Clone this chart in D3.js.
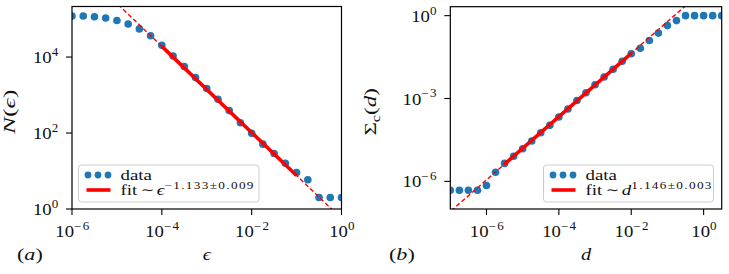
<!DOCTYPE html>
<html>
<head>
<meta charset="utf-8">
<script src="https://cdn.jsdelivr.net/npm/d3@7"></script>
<style>
	body { margin: 0; background: #fff; }
	svg text { font-family: "Liberation Serif", "DejaVu Serif", serif; fill: #111; }
</style>
</head>
<body>
<script>
'use strict';

// Panel (a): box counting N(eps)
const epsilonValues = [1e-6, 1.78e-6, 3.16e-6, 5.62e-6, 1e-5, 1.78e-5, 3.16e-5, 5.62e-5,
	1e-4, 1.78e-4, 3.16e-4, 5.62e-4, 1e-3, 1.78e-3, 3.16e-3, 5.62e-3,
	1e-2, 1.78e-2, 3.16e-2, 5.62e-2, 0.1, 0.178, 0.316, 0.562, 1];
const countValues = [120000, 120000, 115000, 107000, 91200, 74100, 55000, 36300,
	20400, 10700, 5620, 2880, 1480, 776, 389, 186,
	98, 51, 29, 16, 9.1, 5.9, 2, 2, 2];
const epsilonTicks = [1e-6, 1e-4, 1e-2, 1e0];
const countTicks = [1e0, 1e2, 1e4];
const epsilonFit = { prefactor: 0.56, exponent: -1.133, from: 1e-4, to: 1e-1 };

// Panel (b): correlation sum Sigma_c(d)
const distanceValues = [1e-7, 1.78e-7, 3.16e-7, 5.62e-7, 1e-6, 1.78e-6, 3.16e-6, 5.62e-6,
	1e-5, 1.78e-5, 3.16e-5, 5.62e-5, 1e-4, 1.78e-4, 3.16e-4, 5.62e-4,
	1e-3, 1.78e-3, 3.16e-3, 5.62e-3, 1e-2, 1.78e-2, 3.16e-2, 5.62e-2,
	0.1, 0.178, 0.316, 0.562, 1, 1.78, 3.16];
const sigmaValues = [4.8e-7, 4.8e-7, 4.8e-7, 4.8e-7, 7.1e-7, 2.14e-6, 4.47e-6, 8.1e-6,
	1.51e-5, 2.88e-5, 5.75e-5, 1.07e-4, 2.14e-4, 4.17e-4, 8.5e-4, 1.62e-3,
	3.16e-3, 6.03e-3, 0.0115, 0.0224, 0.0417, 0.066, 0.126, 0.234,
	0.437, 0.661, 1, 1, 1, 1, 1];
const distanceTicks = [1e-6, 1e-4, 1e-2, 1e0];
const sigmaTicks = [1e-6, 1e-3, 1e0];
const distanceFit = { prefactor: 8.5, exponent: 1.146, from: 3.16e-6, to: 1e-2 };

const BLUE = "#1f77b4";
const RED = "#ff0000";

const svg = d3.select("body").append("svg")
	.attr("width", 729)
	.attr("height", 274);

// Writes a text made of pieces: {t, it, sup, sub, scale, rise, ls, dx}.
// The whole text can be widened with opts.stretch (the reference type is set wide).
function mathText(parent, x, y, pieces, opts)
{
	let size = opts.size || 15;
	let t = parent.append("text")
		.attr("text-anchor", opts.anchor || "start")
		.attr("font-size", size)
		.attr("transform", "translate(" + x + "," + y + ")"
			+ (opts.rotate ? " rotate(" + opts.rotate + ")" : "")
			+ " scale(" + (opts.stretch || 1) + ",1)");
	let shift = 0;
	for (let p of pieces)
	{
		let s = t.append("tspan").text(p.t);
		let target = 0;
		if (p.it)
		{
			s.attr("font-style", "italic");
		}
		if (p.sup)
		{
			s.attr("font-size", size * (p.scale || 0.7));
			target = -size * 0.42;
		}
		else if (p.sub)
		{
			s.attr("font-size", size * (p.scale || 0.7));
			target = size * 0.22;
		}
		else
		{
			if (p.scale)
			{
				s.attr("font-size", size * p.scale);
			}
			target = -(p.rise || 0);
		}
		if (target != shift)
		{
			s.attr("dy", target - shift);
			shift = target;
		}
		if (p.ls)
		{
			s.attr("letter-spacing", p.ls);
		}
		if (p.dx)
		{
			s.attr("dx", p.dx);
		}
	}
	return t;
}

function powerLabel(v)
{
	let e = Math.round(Math.log10(v));
	return [{ t: "10" }, { t: (e < 0 ? "\u2212" + (-e) : "" + e), sup: true, ls: 1.2 }];
}

// One log-log panel with data points, a power law fit and a legend.
class LogPanel
{
	constructor(cfg)
	{
		this.cfg = cfg;
		this.x = d3.scaleLog().domain(cfg.xDomain).range([cfg.left, cfg.right]);
		this.y = d3.scaleLog().domain(cfg.yDomain).range([cfg.bottom, cfg.top]);
		this.g = svg.append("g");
		let clipId = "clip-" + cfg.name;
		this.g.append("clipPath").attr("id", clipId)
			.append("rect")
			.attr("x", cfg.left).attr("y", cfg.top)
			.attr("width", cfg.right - cfg.left)
			.attr("height", cfg.bottom - cfg.top);
		this.plot = this.g.append("g").attr("clip-path", "url(#" + clipId + ")");

		this.DrawData();
		this.DrawFit();
		this.DrawAxes();
		this.DrawLegend();
		this.DrawLabels();
	}

	DrawData()
	{
		let sThis = this;
		let pts = this.cfg.xs.map((v, i) => [v, this.cfg.ys[i]]);
		this.plot.selectAll("circle.pt")
			.data(pts)
			.enter()
			.append("circle")
			.attr("class", "pt")
			.attr("cx", d => sThis.x(d[0]))
			.attr("cy", d => sThis.y(d[1]))
			.attr("r", 3.8)
			.attr("fill", BLUE);
	}

	DrawFit()
	{
		let f = this.cfg.fit;
		let law = v => f.prefactor * Math.pow(v, f.exponent);
		let line = d3.line().x(d => this.x(d)).y(d => this.y(law(d)));
		// dashed extension over the whole axis
		this.plot.append("path")
			.attr("d", line([this.cfg.xDomain[0] / 10, this.cfg.xDomain[1] * 10]))
			.attr("fill", "none")
			.attr("stroke", RED)
			.attr("stroke-width", 1.4)
			.attr("stroke-dasharray", "4.5,2.5");
		// solid part over the fitted range
		this.plot.append("path")
			.attr("d", line([f.from, f.to]))
			.attr("fill", "none")
			.attr("stroke", RED)
			.attr("stroke-width", 3.6);
	}

	DrawAxes()
	{
		let c = this.cfg;
		this.g.append("rect")
			.attr("x", c.left).attr("y", c.top)
			.attr("width", c.right - c.left).attr("height", c.bottom - c.top)
			.attr("fill", "none").attr("stroke", "#000").attr("stroke-width", 1.2);

		for (let v of c.xTicks)
		{
			let px = this.x(v);
			this.g.append("line")
				.attr("x1", px).attr("x2", px)
				.attr("y1", c.bottom).attr("y2", c.bottom + 6)
				.attr("stroke", "#000").attr("stroke-width", 1.1);
			mathText(this.g, px + 1, c.bottom + 28, powerLabel(v),
				{ anchor: "middle", size: 17, stretch: 1.1 });
		}
		for (let v of c.yTicks)
		{
			let py = this.y(v);
			this.g.append("line")
				.attr("x1", c.left - 6).attr("x2", c.left)
				.attr("y1", py).attr("y2", py)
				.attr("stroke", "#000").attr("stroke-width", 1.1);
			mathText(this.g, c.left - 12.5, py + 6, powerLabel(v),
				{ anchor: "end", size: 17, stretch: 1.1 });
		}
	}

	DrawLegend()
	{
		let c = this.cfg;
		let lx = c.legend[0];
		let ly = c.legend[1];
		let lg = this.g.append("g");
		lg.append("rect")
			.attr("x", lx).attr("y", ly)
			.attr("width", c.legend[2]).attr("height", 37)
			.attr("rx", 3)
			.attr("fill", "#fff").attr("fill-opacity", 0.8)
			.attr("stroke", "#cccccc").attr("stroke-width", 1);
		for (let k = 0; k < 3; k++)
		{
			lg.append("circle")
				.attr("cx", lx + 9.5 + k * 10)
				.attr("cy", ly + 10)
				.attr("r", 3.4)
				.attr("fill", BLUE);
		}
		lg.append("line")
			.attr("x1", lx + 8).attr("x2", lx + 32)
			.attr("y1", ly + 25).attr("y2", ly + 25)
			.attr("stroke", RED).attr("stroke-width", 3.6);
		mathText(lg, lx + 42, ly + 15, [{ t: "data" }], { size: 14, stretch: 1.35 });
		mathText(lg, lx + 42, ly + 30, c.fitLabel, { size: 14, stretch: 1.35 });
	}

	DrawLabels()
	{
		let c = this.cfg;
		mathText(this.g, (c.left + c.right) / 2, 260, c.xLabel,
			{ anchor: "middle", size: 17, stretch: 1.2 });
		mathText(this.g, c.yLabelX, (c.top + c.bottom) / 2 + 4, c.yLabel,
			{ anchor: "middle", size: 17, rotate: -90, stretch: c.yLabelStretch });
		mathText(this.g, c.tagX, 260, c.tag, { anchor: "start", size: 17, stretch: 1.3 });
	}
}

new LogPanel({
	name: "a",
	left: 72, right: 341.5, top: 6.5, bottom: 209,
	xDomain: [1e-6, 1], yDomain: [1, 2.14e5],
	xs: epsilonValues, ys: countValues,
	xTicks: epsilonTicks, yTicks: countTicks,
	fit: epsilonFit,
	legend: [78.5, 165, 180.5],
	fitLabel: [{ t: "fit" }, { t: "\u223C", scale: 0.85, rise: 1, dx: 2.5 },
		{ t: "\u03F5", it: true, dx: 2 },
		{ t: "\u22121.133\u00B10.009", sup: true, ls: 1 }],
	xLabel: [{ t: "\u03F5", it: true }],
	yLabel: [{ t: "N", it: true }, { t: "(" }, { t: "\u03F5", it: true }, { t: ")" }],
	yLabelX: 15,
	yLabelStretch: 1.5,
	tag: [{ t: "(" }, { t: "a", it: true }, { t: ")" }],
	tagX: 17
});

new LogPanel({
	name: "b",
	left: 450.3, right: 721.7, top: 6.7, bottom: 209,
	xDomain: [1e-7, 3.16], yDomain: [1e-7, 2.11],
	xs: distanceValues, ys: sigmaValues,
	xTicks: distanceTicks, yTicks: sigmaTicks,
	fit: distanceFit,
	legend: [543.5, 165, 170],
	fitLabel: [{ t: "fit" }, { t: "\u223C", scale: 0.85, rise: 1, dx: 2.5 },
		{ t: "d", it: true, dx: 2 },
		{ t: "1.146\u00B10.003", sup: true, ls: 1 }],
	xLabel: [{ t: "d", it: true }],
	yLabel: [{ t: "\u03A3" }, { t: "c", sub: true }, { t: "(" }, { t: "d", it: true }, { t: ")" }],
	yLabelX: 376,
	yLabelStretch: 1.35,
	tag: [{ t: "(" }, { t: "b", it: true }, { t: ")" }],
	tagX: 389
});
</script>
</body>
</html>
